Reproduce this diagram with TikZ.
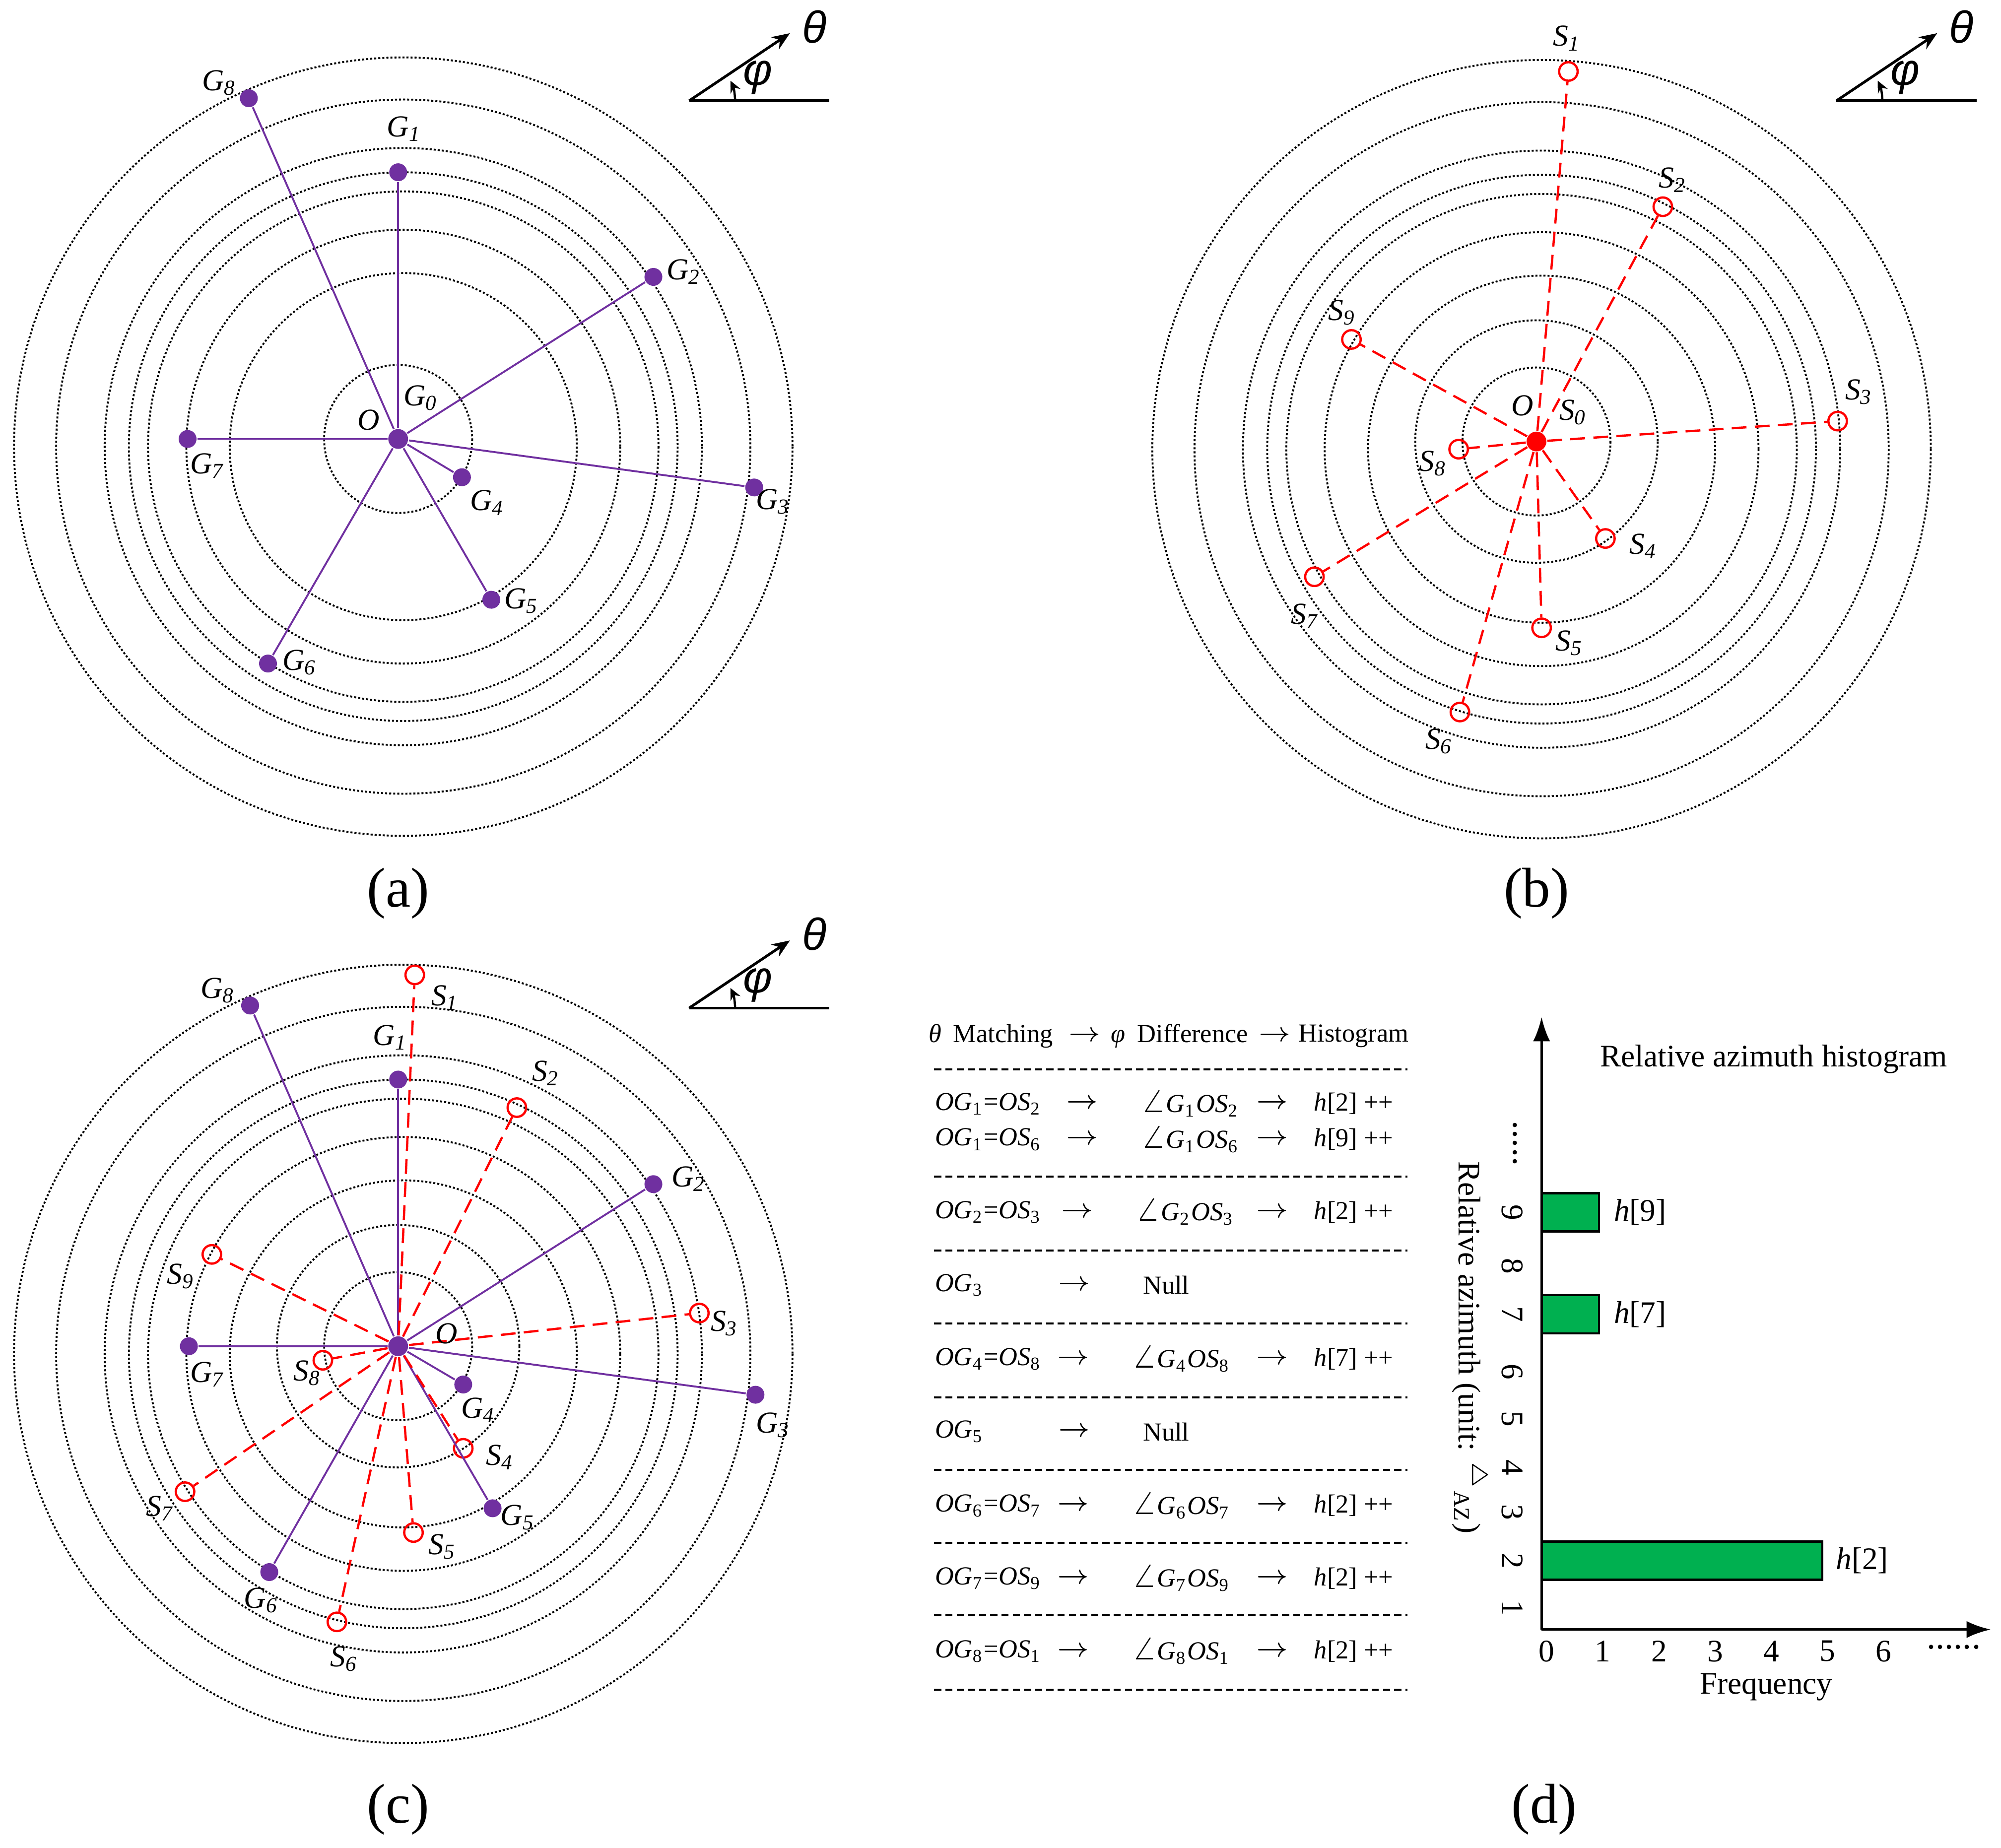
\documentclass[tikz,border=0pt]{standalone}
\usepackage{fontspec}
\setmainfont{Liberation Serif}
\newfontfamily\greekfont{Liberation Sans}
\usetikzlibrary{arrows.meta}
\definecolor{gpurple}{RGB}{112,48,160}
\definecolor{hgreen}{RGB}{0,176,80}
\newcommand{\gsub}[2]{\textit{#1}\textsubscript{\textit{#2}}}
\newcommand{\og}[1]{\textit{OG}\textsubscript{#1}}
\newcommand{\os}[1]{\textit{OS}\textsubscript{#1}}
\newcommand{\ang}[2]{$\angle$\textit{G}\textsubscript{#1}\textit{OS}\textsubscript{#2}}
\newcommand{\hh}[1]{\textit{h}[#1]}
\newcommand{\dirmark}[2]{%
  \begin{scope}[shift={#2}]
    \coordinate (#1m0) at (540,79);
    \coordinate (#1m1) at (650,79);
    \coordinate (#1m2) at (619,26);
    \draw [line width=0.6pt] (#1m0) -- (#1m1);
    \draw [line width=0.6pt, -{Stealth[length=4pt, width=3.2pt]}] (#1m0) -- (#1m2);
    \draw [line width=0.5pt, -{Stealth[length=2.6pt, width=2.4pt]}] (576,79) arc [start angle=0, end angle=-26, radius=36];
    \node [greek] (#1th) at (638,21) {\textit{θ}};
    \node [greek] (#1ph) at (594,61) {\textit{φ}};
  \end{scope}}
\tikzset{
  ring/.style={line width=0.42pt, dash pattern=on 0.45pt off 0.45pt},
  gline/.style={gpurple, line width=0.42pt},
  sline/.style={red, line width=0.5pt, dash pattern=on 3.3pt off 1.85pt},
  gdot/.style={circle, fill=gpurple, inner sep=0pt, minimum size=0.14cm},
  sdot/.style={circle, draw=red, line width=0.5pt, inner sep=0pt, minimum size=0.145cm},
  lab/.style={font=\fontsize{6.8}{8}\selectfont, inner sep=0pt},
  greek/.style={font=\fontsize{10}{12}\greekfont, inner sep=0pt},
  panelcap/.style={font=\fontsize{12.5}{15}\selectfont, inner sep=0pt},
  tab/.style={font=\fontsize{5.8}{7}\selectfont, inner sep=0pt},
  hist/.style={font=\fontsize{7}{8.4}\selectfont, inner sep=0pt},
  tabline/.style={line width=0.45pt, dash pattern=on 1.6pt off 0.9pt},
  bar/.style={draw, fill=hgreen, line width=0.5pt},
  axis/.style={line width=0.55pt, -{Latex[length=5.4pt, width=3.8pt]}}
}
\begin{document}
\begin{tikzpicture}[x=0.01cm, y=-0.01cm]
\useasboundingbox (0,0) rectangle (1568,1448);

% (a) reference points G
\foreach \r in {136,170,200,215,234,272,305}
  \draw [ring] (316,350) circle (\r);
\draw [ring] (312,344) circle (58);
\node [gdot, minimum size=0.155cm] (a0) at (312,344) {};
\node [gdot] (ag1) at (312,135) {};
\node [gdot] (ag2) at (512,217) {};
\node [gdot] (ag3) at (591,382) {};
\node [gdot] (ag4) at (362,374) {};
\node [gdot] (ag5) at (385,470) {};
\node [gdot] (ag6) at (210,520) {};
\node [gdot] (ag7) at (147,344) {};
\node [gdot] (ag8) at (195,77) {};
\foreach \i in {1,...,8}
  \draw [gline] (a0) -- (ag\i);
\node [lab] (lag1) at (317,101) {\gsub{G}{1}};
\node [lab] (lag2) at (536,213) {\gsub{G}{2}};
\node [lab] (lag3) at (606,393) {\gsub{G}{3}};
\node [lab] (lag4) at (382,394) {\gsub{G}{4}};
\node [lab] (lag5) at (409,471) {\gsub{G}{5}};
\node [lab] (lag6) at (235,519) {\gsub{G}{6}};
\node [lab] (lag7) at (163,365) {\gsub{G}{7}};
\node [lab] (lag8) at (172,65) {\gsub{G}{8}};
\node [lab] (lao) at (289,329) {\textit{O}};
\node [lab] (lag0) at (330,312) {\gsub{G}{0}};
\dirmark{a}{(0,0)}
\node [panelcap] (capa) at (312,700) {(a)};

% (b) sensed points S
\foreach \r in {136,170,200,215,234,272,305}
  \draw [ring] (1208,352) circle (\r);
\foreach \r in {58,95}
  \draw [ring] (1204,346) circle (\r);
\node [circle, fill=red, inner sep=0pt, minimum size=0.155cm] (b0) at (1204,346) {};
\node [sdot] (bs1) at (1229,56) {};
\node [sdot] (bs2) at (1303,162) {};
\node [sdot] (bs3) at (1440,330) {};
\node [sdot] (bs4) at (1258,422) {};
\node [sdot] (bs5) at (1208,492) {};
\node [sdot] (bs6) at (1144,558) {};
\node [sdot] (bs7) at (1030,452) {};
\node [sdot] (bs8) at (1143,352) {};
\node [sdot] (bs9) at (1059,266) {};
\foreach \i in {1,...,9}
  \draw [sline] (b0) -- (bs\i);
\node [lab] (lbs1) at (1228,30) {\gsub{S}{1}};
\node [lab] (lbs2) at (1311,141) {\gsub{S}{2}};
\node [lab] (lbs3) at (1457,307) {\gsub{S}{3}};
\node [lab] (lbs4) at (1288,428) {\gsub{S}{4}};
\node [lab] (lbs5) at (1230,504) {\gsub{S}{5}};
\node [lab] (lbs6) at (1128,581) {\gsub{S}{6}};
\node [lab] (lbs7) at (1023,483) {\gsub{S}{7}};
\node [lab] (lbs8) at (1123,363) {\gsub{S}{8}};
\node [lab] (lbs9) at (1052,245) {\gsub{S}{9}};
\node [lab] (lbo) at (1193,318) {\textit{O}};
\node [lab] (lbs0) at (1233,323) {\gsub{S}{0}};
\dirmark{b}{(899,0)}
\node [panelcap] (capb) at (1204,700) {(b)};

% (c) both sets on one centre
\foreach \r in {136,170,200,215,234,272,305}
  \draw [ring] (316,1061) circle (\r);
\foreach \r in {58,95}
  \draw [ring] (312,1055) circle (\r);
\node [gdot, minimum size=0.155cm] (c0) at (312,1055) {};
\node [gdot] (cg1) at (312,846) {};
\node [gdot] (cg2) at (512,928) {};
\node [gdot] (cg3) at (592,1093) {};
\node [gdot] (cg4) at (363,1085) {};
\node [gdot] (cg5) at (386,1182) {};
\node [gdot] (cg6) at (211,1232) {};
\node [gdot] (cg7) at (148,1055) {};
\node [gdot] (cg8) at (196,788) {};
\node [sdot] (cs1) at (325,764) {};
\node [sdot] (cs2) at (405,868) {};
\node [sdot] (cs3) at (548,1029) {};
\node [sdot] (cs4) at (363,1135) {};
\node [sdot] (cs5) at (324,1201) {};
\node [sdot] (cs6) at (264,1271) {};
\node [sdot] (cs7) at (145,1169) {};
\node [sdot] (cs8) at (253,1066) {};
\node [sdot] (cs9) at (166,983) {};
\foreach \i in {1,...,8}
  \draw [gline] (c0) -- (cg\i);
\foreach \i in {1,...,9}
  \draw [sline] (c0) -- (cs\i);
\node [lab] (lcg1) at (306,813) {\gsub{G}{1}};
\node [lab] (lcg2) at (540,924) {\gsub{G}{2}};
\node [lab] (lcg3) at (606,1117) {\gsub{G}{3}};
\node [lab] (lcg4) at (375,1105) {\gsub{G}{4}};
\node [lab] (lcg5) at (406,1189) {\gsub{G}{5}};
\node [lab] (lcg6) at (205,1254) {\gsub{G}{6}};
\node [lab] (lcg7) at (163,1077) {\gsub{G}{7}};
\node [lab] (lcg8) at (171,776) {\gsub{G}{8}};
\node [lab] (lcs1) at (349,782) {\gsub{S}{1}};
\node [lab] (lcs2) at (428,841) {\gsub{S}{2}};
\node [lab] (lcs3) at (568,1037) {\gsub{S}{3}};
\node [lab] (lcs4) at (392,1142) {\gsub{S}{4}};
\node [lab] (lcs5) at (347,1212) {\gsub{S}{5}};
\node [lab] (lcs6) at (270,1300) {\gsub{S}{6}};
\node [lab] (lcs7) at (126,1182) {\gsub{S}{7}};
\node [lab] (lcs8) at (241,1076) {\gsub{S}{8}};
\node [lab] (lcs9) at (142,1000) {\gsub{S}{9}};
\node [lab] (lco) at (350,1045) {\textit{O}};
\dirmark{c}{(0,711)}
\node [panelcap] (capc) at (312,1418) {(c)};

% (d) matching table
\node [tab, anchor=west] (th1) at (727,812) {\textit{θ}\hspace{0.45em}Matching};
\node [tab] (tha1) at (850,812) {$\rightarrow$};
\node [tab, anchor=west] (th2) at (870,812) {\textit{φ}\hspace{0.45em}Difference};
\node [tab] (tha2) at (999,812) {$\rightarrow$};
\node [tab, anchor=west] (th3) at (1017,812) {Histogram};
\foreach \y in {838,922,980,1037,1095,1152,1209,1266,1324}
  \draw [tabline] (732,\y) -- (1103,\y);
% rows: y / first arrow x / angle x / left / angle / bin
\foreach \y/\xa/\xb/\l/\m/\h in {
    865/848/893/{\og{1}=\os{2}}/{\ang{1}{2}}/2,
    893/848/893/{\og{1}=\os{6}}/{\ang{1}{6}}/9,
    950/844/889/{\og{2}=\os{3}}/{\ang{2}{3}}/2,
    1065/841/886/{\og{4}=\os{8}}/{\ang{4}{8}}/7,
    1180/841/886/{\og{6}=\os{7}}/{\ang{6}{7}}/2,
    1237/841/886/{\og{7}=\os{9}}/{\ang{7}{9}}/2,
    1294/841/886/{\og{8}=\os{1}}/{\ang{8}{1}}/2} {
  \node [tab, anchor=west] (tl\y) at (732,\y) {\l};
  \node [tab] (ta\y) at (\xa,\y) {$\rightarrow$};
  \node [tab, anchor=west] (tm\y) at (\xb,\y) {\m};
  \node [tab] (tb\y) at (997,\y) {$\rightarrow$};
  \node [tab, anchor=west] (tr\y) at (1029,\y) {\hh{\h} ++};
}
\foreach \y/\g in {1007/3, 1122/5} {
  \node [tab, anchor=west] (tl\y) at (732,\y) {\og{\g}};
  \node [tab] (ta\y) at (842,\y) {$\rightarrow$};
  \node [tab, anchor=west] (tm\y) at (895,\y) {Null};
}

% (d) histogram
\coordinate (hO) at (1208,1277);
\coordinate (hy) at (1208,797);
\coordinate (hx) at (1560,1277);
\draw [bar] (1208,935) rectangle (1253,965);
\draw [bar] (1208,1015) rectangle (1253,1045);
\draw [bar] (1208,1208) rectangle (1428,1238);
\draw [axis] (hO) -- (hy);
\draw [axis] (hO) -- (hx);
\node [hist, anchor=west] (h9) at (1264,950) {\hh{9}};
\node [hist, anchor=west] (h7) at (1264,1030) {\hh{7}};
\node [hist, anchor=west] (h2) at (1438,1223) {\hh{2}};
\foreach \n in {0,...,6}
  \node [hist] (fx\n) at (1212+44*\n,1294) {\n};
\node [hist] (fxdots) at (1531,1291) {\fontsize{8}{9}\selectfont ......};
\node [hist] (fxlab) at (1384,1322) {Frequency};
\foreach \n/\y in {1/1260,2/1223,3/1185,4/1150,5/1112,6/1075,7/1030,8/992,9/950}
  \node [hist, rotate=-90] (az\n) at (1185,\y) {\n};
\node [hist, rotate=-90] (azdots) at (1187,896) {\fontsize{8}{9}\selectfont .....};
\node [hist, rotate=-90] (azlab) at (1152,1056) {Relative azimuth (unit: $^{\scriptscriptstyle\triangle}$\textsubscript{AZ})};
\node [hist] (htitle) at (1390,830) {Relative azimuth histogram};
\node [panelcap] (capd) at (1210,1418) {(d)};
\end{tikzpicture}
\end{document}
